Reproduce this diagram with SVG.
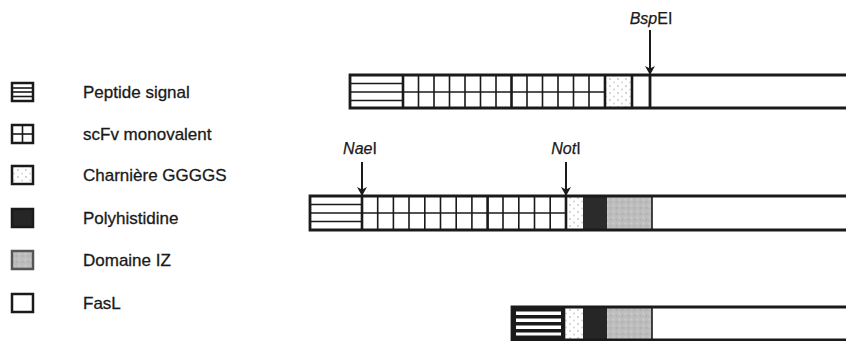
<svg xmlns="http://www.w3.org/2000/svg" width="846" height="341" viewBox="0 0 846 341">
  <style>
    .lbl { font-family: "Liberation Sans", Arial, sans-serif; font-size: 17px; fill: #1a1a1a; stroke: #1a1a1a; stroke-width: 0.3; }
    .site { font-family: "Liberation Sans", Arial, sans-serif; font-size: 16px; fill: #1a1a1a; stroke: #1a1a1a; stroke-width: 0.25; text-anchor: middle; }
    .box { stroke: #1a1a1a; stroke-width: 2.5; }
    .thin { stroke: #1a1a1a; stroke-width: 1.6; fill: none; }
    .thick { stroke: #1a1a1a; stroke-width: 2.6; fill: none; }
    .edge { stroke: #1a1a1a; stroke-width: 2.8; fill: none; }
    .arrow { stroke: #1a1a1a; stroke-width: 2; fill: none; marker-end: url(#tip); }
  </style>
  <defs>
    <marker id="tip" markerWidth="9" markerHeight="10" refX="9" refY="5" orient="auto" markerUnits="userSpaceOnUse" viewBox="0 0 9 10">
      <path d="M0,0 L9,5 L0,10 L2.5,5 Z" fill="#1a1a1a"/>
    </marker>
    <pattern id="dots" width="8" height="7" patternUnits="userSpaceOnUse">
      <rect width="8" height="7" fill="#ffffff"/>
      <circle cx="2" cy="2" r="1" fill="#c8c8c8"/>
      <circle cx="6" cy="5.5" r="1" fill="#d4d4d4"/>
    </pattern>
    <pattern id="grain" width="6" height="6" patternUnits="userSpaceOnUse">
      <rect width="6" height="6" fill="#bdbdbd"/>
      <circle cx="1.5" cy="1.5" r="0.9" fill="#cfcfcf"/>
      <circle cx="4.5" cy="4" r="0.9" fill="#adadad"/>
    </pattern>
  </defs>

  <!-- legend -->
  <g id="legend-peptide">
    <rect x="12" y="83" width="21" height="18" fill="#fff" class="box"/>
    <line x1="12" y1="88" x2="33" y2="88" class="thin"/>
    <line x1="12" y1="92" x2="33" y2="92" class="thin"/>
    <line x1="12" y1="96.5" x2="33" y2="96.5" class="thin"/>
    <text x="83" y="98" class="lbl">Peptide signal</text>
  </g>
  <g id="legend-scfv">
    <rect x="12" y="125" width="21" height="18" fill="#fff" class="box"/>
    <line x1="22.5" y1="125" x2="22.5" y2="143" class="thin"/>
    <line x1="12" y1="134" x2="33" y2="134" class="thin"/>
    <text x="83" y="140" class="lbl">scFv monovalent</text>
  </g>
  <g id="legend-hinge">
    <rect x="12" y="166" width="21" height="18" fill="url(#dots)" class="box"/>
    <text x="83" y="181" class="lbl">Charnière GGGGS</text>
  </g>
  <g id="legend-his">
    <rect x="12" y="209" width="21" height="18" fill="#262626" class="box"/>
    <text x="83" y="224" class="lbl">Polyhistidine</text>
  </g>
  <g id="legend-iz">
    <rect x="12" y="251" width="21" height="18" fill="url(#grain)" stroke="#555" stroke-width="2.5"/>
    <text x="83" y="266" class="lbl">Domaine IZ</text>
  </g>
  <g id="legend-fasl">
    <rect x="12" y="294" width="21" height="18" fill="#fff" class="box"/>
    <text x="83" y="309" class="lbl">FasL</text>
  </g>

  <!-- construct 1: peptide, scFv, hinge, FasL -->
  <g id="construct-1">
    <rect x="605" y="75" width="27" height="33" fill="url(#dots)"/>
    <line x1="350" y1="83.5" x2="403" y2="83.5" class="thin"/>
    <line x1="350" y1="92" x2="403" y2="92" class="thin"/>
    <line x1="350" y1="100.5" x2="403" y2="100.5" class="thin"/>
    <line x1="403" y1="92" x2="605" y2="92" class="thin"/>
    <path d="M418.5,75V108 M434,75V108 M449.5,75V108 M465,75V108 M480.5,75V108 M496,75V108 M527,75V108 M542.5,75V108 M558,75V108 M573.5,75V108 M589,75V108" class="thin"/>
    <path d="M403,75V108 M511.5,75V108 M605,75V108 M632,75V108" class="thick"/>
    <path d="M846,75H350V108H846" class="edge"/>
    <line x1="650" y1="75" x2="650" y2="108" class="edge"/>
  </g>

  <!-- construct 2: peptide, scFv, hinge, polyhistidine, IZ, FasL -->
  <g id="construct-2">
    <rect x="566" y="196" width="17" height="34" fill="url(#dots)"/>
    <rect x="583" y="196" width="24" height="34" fill="#2b2b2b"/>
    <rect x="607" y="196" width="45" height="34" fill="url(#grain)"/>
    <line x1="310" y1="204.5" x2="362" y2="204.5" class="thin"/>
    <line x1="310" y1="213" x2="362" y2="213" class="thin"/>
    <line x1="310" y1="221.5" x2="362" y2="221.5" class="thin"/>
    <line x1="362" y1="213" x2="566" y2="213" class="thin"/>
    <path d="M377.7,196V230 M393.4,196V230 M409,196V230 M424.8,196V230 M440.5,196V230 M456.2,196V230 M471.9,196V230 M503,196V230 M518.8,196V230 M534.5,196V230 M550.2,196V230" class="thin"/>
    <path d="M362,196V230 M487.6,196V230 M566,196V230" class="thick"/>
    <line x1="652" y1="196" x2="652" y2="230" class="thin"/>
    <path d="M846,196H310V230H846" class="edge"/>
  </g>

  <!-- construct 3: peptide, hinge, polyhistidine, IZ, FasL -->
  <g id="construct-3">
    <rect x="564" y="307" width="19" height="33" fill="url(#dots)"/>
    <rect x="583" y="307" width="24" height="33" fill="#262626"/>
    <rect x="607" y="307" width="45" height="33" fill="url(#grain)"/>
    <rect x="512" y="307" width="52" height="33" fill="#1a1a1a"/>
    <rect x="516" y="311.5" width="45" height="3.5" fill="#fff"/>
    <rect x="516" y="318.5" width="45" height="3.5" fill="#fff"/>
    <rect x="516" y="325.5" width="45" height="3.5" fill="#fff"/>
    <rect x="516" y="332.5" width="45" height="3" fill="#fff"/>
    <line x1="564" y1="307" x2="564" y2="340" class="thick"/>
    <line x1="652" y1="307" x2="652" y2="340" class="thin"/>
    <path d="M846,307H512V340H846" class="edge"/>
  </g>

  <!-- restriction sites -->
  <g id="site-bspei">
    <text x="651" y="24" class="site"><tspan font-style="italic">Bsp</tspan>EI</text>
  </g>
  <g id="site-naei">
    <text x="360" y="154" class="site"><tspan font-style="italic">Nae</tspan>I</text>
  </g>
  <g id="site-noti">
    <text x="566" y="154" class="site"><tspan font-style="italic">Not</tspan>I</text>
  </g>

  <g id="connectors">
    <line x1="650" y1="30" x2="650" y2="75" class="arrow"/>
    <line x1="362" y1="162" x2="362" y2="196" class="arrow"/>
    <line x1="566" y1="162" x2="566" y2="196" class="arrow"/>
  </g>
</svg>
